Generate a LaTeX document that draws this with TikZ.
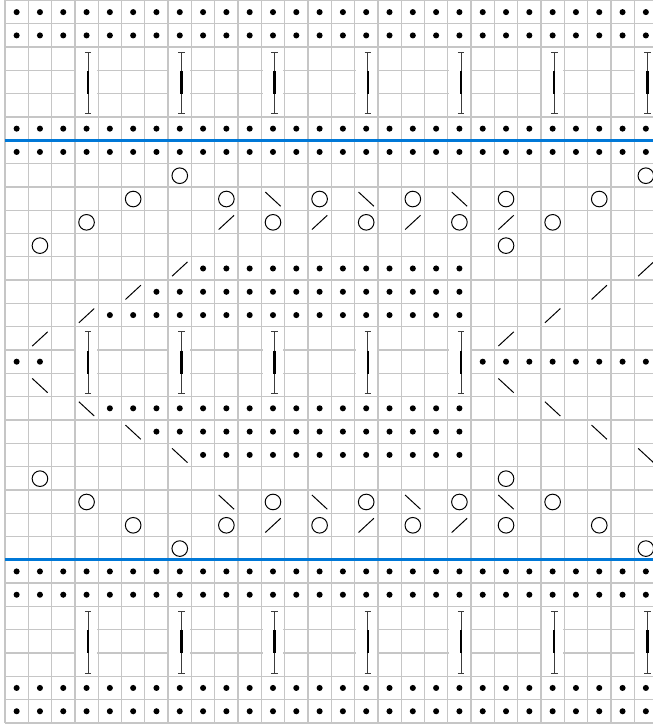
\documentclass[tikz,border=0pt]{standalone}
\definecolor{gridgray}{RGB}{198,198,198}
\definecolor{sepblue}{RGB}{0,120,215}
\definecolor{bargray}{RGB}{60,60,60}
% one cell is 1 by 1, column c and row r (counted from the top)
\newcommand{\purlst}[2]{\fill (#1+0.5,-#2-0.5) circle (0.13);}
\newcommand{\yarnover}[2]{\draw[line width=1.2pt] (#1+0.5,-#2-0.52) circle (0.335);}
\newcommand{\kright}[2]{\draw[line width=1.2pt] (#1+0.17,-#2-0.83) -- (#1+0.83,-#2-0.22);}
\newcommand{\kleft}[2]{\draw[line width=1.2pt] (#1+0.17,-#2-0.22) -- (#1+0.83,-#2-0.83);}
\newcommand{\twistst}[2]{%
  \fill[white] (#1+0.05,-#2-0.05) rectangle (#1+0.95,-#2-2.95);
  \draw[bargray,line width=1.1pt] (#1+0.57,-#2-0.22) -- (#1+0.57,-#2-2.86);
  \draw[bargray,line width=1.1pt] (#1+0.43,-#2-0.22) -- (#1+0.71,-#2-0.22);
  \draw[bargray,line width=1.1pt] (#1+0.43,-#2-2.86) -- (#1+0.71,-#2-2.86);
  \draw[line width=2.8pt] (#1+0.57,-#2-1.02) -- (#1+0.57,-#2-2.02);}
\begin{document}
\begin{tikzpicture}
\useasboundingbox (-0.214,0.02) rectangle (27.79,-31.09);
% grid
\foreach \col in {0,...,28} \draw[gridgray,line width=1.6pt] (\col,0) -- (\col,-31);
\foreach \row in {0,...,31} \draw[gridgray,line width=1.6pt] (0,-\row) -- (28,-\row);
% purl rows
\foreach \row in {0,1,5,6,24,25,29,30}
  {\foreach \col in {0,...,27} {\purlst{\col}{\row}}}
\foreach \row/\first in {11/8,12/6,13/4,17/4,18/6,19/8}
  {\foreach \col in {\first,...,19} {\purlst{\col}{\row}}}
\foreach \col in {0,1,20,21,22,23,24,25,26,27} {\purlst{\col}{15}}
% twisted stitches over three rows
\foreach \row in {2,26}
  {\foreach \col in {3,7,11,15,19,23,27} {\twistst{\col}{\row}}}
\foreach \col in {3,7,11,15,19} {\twistst{\col}{14}}
% yarn overs
\foreach \col/\row in {7/7,27/7,5/8,9/8,13/8,17/8,21/8,25/8,3/9,11/9,15/9,19/9,23/9,1/10,21/10,
                   1/20,21/20,3/21,11/21,15/21,19/21,23/21,5/22,9/22,13/22,17/22,21/22,25/22,7/23,27/23}
  {\yarnover{\col}{\row}}
% decreases
\foreach \col/\row in {11/8,15/8,19/8,1/16,21/16,3/17,23/17,5/18,25/18,7/19,27/19,9/21,13/21,17/21,21/21}
  {\kleft{\col}{\row}}
\foreach \col/\row in {9/9,13/9,17/9,21/9,7/11,27/11,5/12,25/12,3/13,23/13,1/14,21/14,11/22,15/22,19/22}
  {\kright{\col}{\row}}
% start and end of the repeat
\draw[sepblue,line width=3.8pt] (0,-6) -- (28,-6);
\draw[sepblue,line width=3.8pt] (0,-24) -- (28,-24);
\end{tikzpicture}
\end{document}
